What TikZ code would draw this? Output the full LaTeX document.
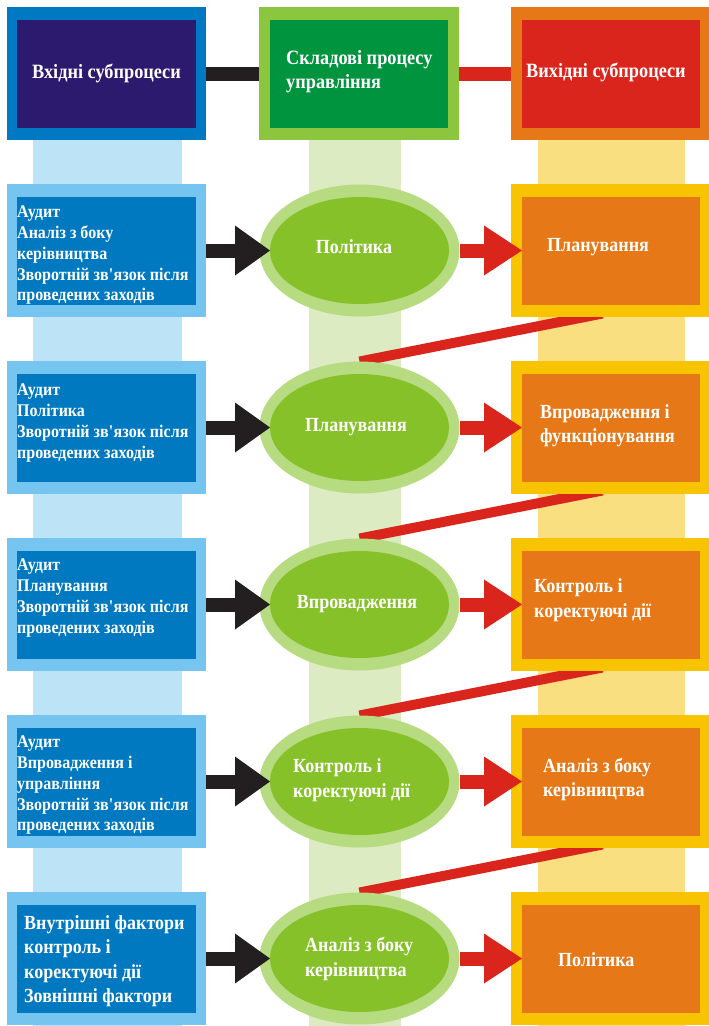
\documentclass[tikz,border=0pt]{standalone}
\usepackage{fontspec}
\setmainfont{Liberation Serif}[FakeStretch=0.9]
\usetikzlibrary{arrows.meta,shapes.geometric,calc}
\pgfdeclarelayer{bg}
\pgfsetlayers{bg,main}
\definecolor{cHLo}{HTML}{0079C2}
\definecolor{cHLi}{HTML}{2B1A6E}
\definecolor{cHMo}{HTML}{8CC63F}
\definecolor{cHMi}{HTML}{00943F}
\definecolor{cHRo}{HTML}{E67817}
\definecolor{cHRi}{HTML}{DA251D}
\definecolor{cLo}{HTML}{76C5F0}
\definecolor{cLi}{HTML}{0079C1}
\definecolor{cEo}{HTML}{B6DB80}
\definecolor{cEi}{HTML}{86C12A}
\definecolor{cRo}{HTML}{F8C300}
\definecolor{cRi}{HTML}{E67817}
\definecolor{sL}{HTML}{BDE3F7}
\definecolor{sM}{HTML}{DCEBC1}
\definecolor{sR}{HTML}{F9DF80}
\definecolor{cBlk}{HTML}{231F20}
\definecolor{cRed}{HTML}{DA251D}
\newcommand{\apos}{\textquotesingle}
\tikzset{
  box/.style={rectangle,inner sep=0pt,outer sep=0pt},
  outerbox/.style={box,minimum width=199pt,minimum height=133pt},
  innerbox/.style={box,minimum width=179pt,minimum height=108pt},
  outerell/.style={ellipse,inner sep=0pt,outer sep=0pt,fill=cEo,minimum width=200pt,minimum height=132pt},
  innerell/.style={ellipse,inner sep=0pt,outer sep=0pt,fill=cEi,minimum width=179pt,minimum height=107pt},
  txtS/.style={text=white,inner sep=0pt,align=left,font=\fontsize{17.8}{20.7}\selectfont\bfseries},
  txtL/.style={text=white,inner sep=0pt,align=left,font=\fontsize{20}{24.5}\selectfont\bfseries},
  txtH/.style={text=white,inner sep=0pt,align=left,font=\fontsize{20.3}{24}\selectfont\bfseries},
  blackarrow/.style={cBlk,line width=14pt,-{Triangle[width=50pt,length=35pt,line width=0pt]}},
  redarrow/.style={cRed,line width=14pt,-{Triangle[width=50pt,length=38pt,line width=0pt]}},
  hbar/.style={line width=14pt},
  diagbar/.style={cRed,line width=10pt}
}
\begin{document}
\begin{tikzpicture}[x=1pt,y=-1pt]
\useasboundingbox (0,0) rectangle (709,1026);
% headers
\node[outerbox,fill=cHLo] (HLo) at (106.5,73.5) {};
\node[innerbox,fill=cHLi] (HLi) at (106.5,73.5) {};
\node[outerbox,fill=cHMo,minimum width=200pt] (HMo) at (359,73.5) {};
\node[innerbox,fill=cHMi,minimum width=178pt] (HMi) at (359,73.5) {};
\node[outerbox,fill=cHRo] (HRo) at (610.5,73.5) {};
\node[innerbox,fill=cHRi,minimum width=178pt] (HRi) at (611,73.5) {};
\node[txtH] (HLt) at (106.5,73) {Вхідні субпроцеси};
\node[txtH,anchor=west] (HMt) at (286,72) {Складові процесу\\управління};
\node[txtH] (HRt) at (606,72) {Вихідні субпроцеси};
% rows
\foreach \k/\y in {1/250.5,2/427.5,3/604.5,4/781.5,5/958.5}{
  \node[outerbox,fill=cLo] (Lo\k) at (106.5,\y) {};
  \node[innerbox,fill=cLi] (Li\k) at (106.5,\y) {};
  \node[outerell] (Eo\k) at (359.5,\y) {};
  \node[innerell] (Ei\k) at (359.5,\y) {};
  \node[outerbox,fill=cRo] (Ro\k) at (610.5,\y) {};
  \node[innerbox,fill=cRi,minimum width=178pt] (Ri\k) at (611,\y) {};
}
% left texts
\node[txtS,anchor=north west] (Lt1) at (17,206) {Аудит\\Аналіз з боку\\керівництва\\Зворотній зв\apos язок після\\проведених заходів};
\node[txtS,anchor=north west] (Lt2) at (17,384) {Аудит\\Політика\\Зворотній зв\apos язок після\\проведених заходів};
\node[txtS,anchor=north west] (Lt3) at (17,559) {Аудит\\Планування\\Зворотній зв\apos язок після\\проведених заходів};
\node[txtS,anchor=north west] (Lt4) at (17,736) {Аудит\\Впровадження і\\управління\\Зворотній зв\apos язок після\\проведених заходів};
\node[txtL,anchor=west] (Lt5) at (24,961) {Внутрішні фактори\\контроль і\\коректуючі дії\\Зовнішні фактори};
% ellipse texts
\node[txtL] (Et1) at (354,247) {Політика};
\node[txtL] (Et2) at (356,427) {Планування};
\node[txtL] (Et3) at (357,604) {Впровадження};
\node[txtL,anchor=west] (Et4) at (293,780) {Контроль і\\коректуючі дії};
\node[txtL,anchor=west] (Et5) at (305,959) {Аналіз з боку\\керівництва};
% right texts
\node[txtL,anchor=west] (Rt1) at (547,247) {Планування};
\node[txtL,anchor=west] (Rt2) at (540,425.5) {Впровадження і\\функціонування};
\node[txtL,anchor=west] (Rt3) at (534,600) {Контроль і\\коректуючі дії};
\node[txtL,anchor=west] (Rt4) at (543,779.5) {Аналіз з боку\\керівництва};
\node[txtL,anchor=west] (Rt5) at (558,960) {Політика};
% arrows
\foreach \k in {1,...,5}{
  \draw[blackarrow] (Lo\k.east) -- (Ei\k.west);
  \draw[redarrow] (Eo\k.east) -- (Ri\k.west);
}
% background: stripes, header bars, diagonal bars
\begin{pgfonlayer}{bg}
\fill[sL] (33,140) rectangle (182,1026);
\fill[sM] (309,140) rectangle (401,1026);
\fill[sR] (538,140) rectangle (685,1026);
\draw[hbar,cBlk] (HLo.east) -- (HMo.west);
\draw[hbar,cRed] (HMo.east) -- (HRo.west);
\foreach \k/\n in {1/2,2/3,3/4,4/5}{
  \draw[diagbar] ($(Ro\k.south)+(-8,-3.5)$) -- (Eo\n.north);
}
\end{pgfonlayer}
\end{tikzpicture}
\end{document}
